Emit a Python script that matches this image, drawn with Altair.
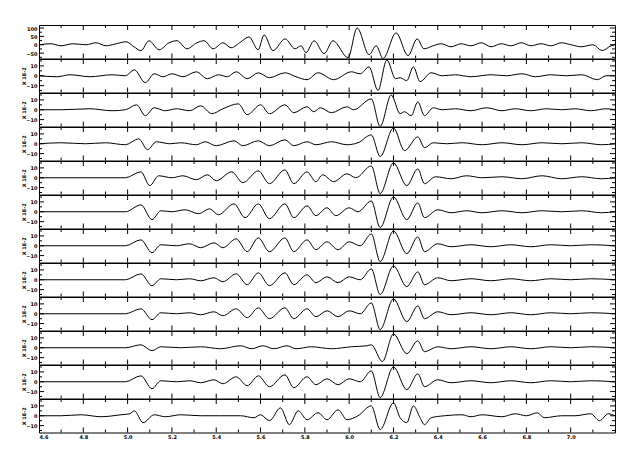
import altair as alt
import pandas as pd

# time axis (s)
X_MAJOR = [4.8, 5.0, 5.2, 5.4, 5.6, 5.8, 6.0, 6.2, 6.4, 6.6, 6.8, 7.0]
X_LABELS = [4.6, 4.8, 5.0, 5.2, 5.4, 5.6, 5.8, 6.0, 6.2, 6.4, 6.6, 6.8, 7.0]
X_MINOR = [4.7, 4.9, 5.1, 5.3, 5.5, 5.7, 5.9, 6.1, 6.3, 6.5, 6.7, 6.9, 7.1]

# trace 1
T1 = [4.600, 4.654, 4.699, 4.753, 4.812, 4.857, 4.902, 4.948, 4.993, 5.029, 5.060, 5.097, 5.142, 5.187,
      5.223, 5.268, 5.313, 5.345, 5.386, 5.431, 5.467, 5.512, 5.548, 5.589, 5.616, 5.656, 5.711, 5.756,
      5.783, 5.805, 5.842, 5.887, 5.927, 5.995, 6.036, 6.090, 6.122, 6.153, 6.212, 6.266, 6.307, 6.338,
      6.379, 6.415, 6.460, 6.505, 6.550, 6.596, 6.641, 6.686, 6.731, 6.776, 6.821, 6.866, 6.912, 6.957,
      7.002, 7.047, 7.101, 7.142, 7.182, 7.200]
V1 = [0, 6, -6, 6, 0, 12, -6, 6, 18, -12, -35, 24, -30, 12,
      24, -24, 12, 24, -24, 12, -18, 18, 47, -30, 59, -35, 35, -24,
      -6, -47, 24, -53, 24, -77, 100, -59, -6, -82, 71, -65, 35, -24,
      -6, 6, -12, 6, -6, 12, -12, 6, -6, 12, -6, 6, -6, 12,
      0, -12, 0, -35, -6, 0]

T2 = [4.60, 4.68, 4.74, 4.83, 4.93, 4.99, 5.03, 5.08, 5.12, 5.16, 5.20, 5.25, 5.31, 5.36, 5.41, 5.45,
      5.49, 5.54, 5.59, 5.64, 5.71, 5.76, 5.81, 5.86, 5.93, 6.01, 6.05, 6.09, 6.13, 6.17, 6.21, 6.23,
      6.26, 6.29, 6.32, 6.37, 6.42, 6.48, 6.55, 6.64, 6.71, 6.78, 6.84, 6.91, 6.98, 7.05, 7.12, 7.16, 7.20]
V2 = [0, -1, 1, -1, 1, 0, 6, -7, 2, -1, 2, -1, 4, -3, 1, -1,
      4, -3, 3, -2, 3, -1, -4, 3, -4, 4, 2, 9, -15, 16, -3, -2,
      -5, 9, -6, 3, 0, 1, -1, 1, 0, 2, -1, 1, 0, 1, -4, 0, 0]

T3 = [4.60, 4.70, 4.83, 4.93, 4.99, 5.04, 5.08, 5.12, 5.17, 5.22, 5.28, 5.33, 5.38, 5.43, 5.50, 5.54,
      5.60, 5.64, 5.71, 5.75, 5.81, 5.84, 5.87, 5.92, 5.99, 6.02, 6.10, 6.14, 6.19, 6.23, 6.25, 6.28,
      6.31, 6.34, 6.38, 6.42, 6.48, 6.55, 6.62, 6.69, 6.75, 6.82, 6.89, 6.96, 7.02, 7.09, 7.16, 7.20]
V3 = [0, 0, 1, -1, 0, 5, -6, 2, -1, 1, -1, 4, -4, 1, 6, -5,
      5, -4, 5, -3, 3, -2, 2, -3, 3, 0, 11, -17, 15, -4, -2, -6,
      8, -6, 2, 0, 1, -1, 2, -1, 1, -1, 1, 0, 1, -1, 1, 0]

T4 = [4.60, 4.70, 4.81, 4.90, 4.99, 5.05, 5.09, 5.13, 5.19, 5.24, 5.31, 5.35, 5.40, 5.48, 5.52, 5.59,
      5.64, 5.71, 5.75, 5.81, 5.85, 5.92, 5.99, 6.04, 6.10, 6.14, 6.20, 6.25, 6.31, 6.34, 6.38, 6.44,
      6.51, 6.60, 6.69, 6.78, 6.87, 6.96, 7.05, 7.14, 7.20]
V4 = [0, 1, 0, 1, -1, 5, -6, 2, 0, 1, -1, 2, -2, 3, -2, 3,
      -2, 4, -2, 2, -1, 2, -1, 1, 9, -13, 16, -7, 7, -4, 1, 0,
      1, -1, 1, -1, 1, 0, 1, -1, 0]

T5 = [4.60, 4.79, 4.99, 5.06, 5.10, 5.14, 5.20, 5.25, 5.31, 5.36, 5.40, 5.47, 5.52, 5.59, 5.64, 5.71,
      5.75, 5.81, 5.85, 5.88, 5.93, 5.99, 6.03, 6.10, 6.14, 6.20, 6.26, 6.31, 6.34, 6.39, 6.46, 6.53,
      6.60, 6.69, 6.78, 6.87, 6.96, 7.05, 7.14, 7.20]
V5 = [0, 0, 0, 6, -8, 2, 0, 2, -2, 3, -3, 6, -5, 7, -6, 8,
      -6, 6, -4, 3, -4, 4, 0, 12, -16, 15, -8, 9, -6, 1, -1, 2,
      0, 1, -1, 2, -1, 1, -1, 0]

T6 = [4.60, 4.99, 5.06, 5.11, 5.15, 5.20, 5.26, 5.32, 5.37, 5.41, 5.48, 5.53, 5.59, 5.64, 5.71, 5.75,
      5.81, 5.85, 5.90, 5.94, 6.00, 6.04, 6.10, 6.14, 6.20, 6.26, 6.31, 6.34, 6.40, 6.46, 6.53, 6.60,
      6.69, 6.78, 6.87, 6.96, 7.05, 7.14, 7.20]
V6 = [0, 0, 7, -8, 1, 0, 2, -2, 3, -3, 8, -6, 8, -7, 8, -6,
      6, -4, 4, -4, 4, 0, 11, -16, 15, -8, 9, -6, 2, -1, 1, -1,
      1, -1, 1, 0, 1, -1, 0]

T7 = [4.60, 4.99, 5.06, 5.11, 5.15, 5.22, 5.28, 5.33, 5.39, 5.43, 5.49, 5.54, 5.59, 5.64, 5.71, 5.75,
      5.81, 5.85, 5.90, 5.95, 6.00, 6.05, 6.10, 6.14, 6.20, 6.26, 6.31, 6.34, 6.40, 6.46, 6.55, 6.64,
      6.73, 6.82, 6.91, 7.00, 7.09, 7.20]
V7 = [0, 0, 6, -7, 1, 0, 2, -2, 3, -2, 7, -6, 8, -6, 8, -6,
      6, -4, 4, -4, 4, 0, 12, -16, 15, -8, 9, -6, 2, -1, 1, -1,
      1, -1, 1, 0, 1, 0]

T8 = [4.60, 4.99, 5.06, 5.11, 5.15, 5.22, 5.28, 5.33, 5.39, 5.43, 5.49, 5.54, 5.59, 5.64, 5.71, 5.75,
      5.81, 5.85, 5.90, 5.95, 6.00, 6.05, 6.10, 6.14, 6.20, 6.26, 6.31, 6.34, 6.40, 6.46, 6.55, 6.64,
      6.73, 6.82, 6.91, 7.00, 7.09, 7.20]
V8 = [0, 0, 6, -6, 1, 0, 1, -1, 2, -2, 6, -5, 7, -6, 7, -5,
      5, -3, 3, -3, 3, 0, 11, -15, 14, -7, 8, -5, 2, -1, 1, -1,
      1, -1, 1, 0, 1, 0]

T9 = [4.60, 4.99, 5.06, 5.11, 5.15, 5.22, 5.28, 5.33, 5.39, 5.43, 5.49, 5.54, 5.59, 5.64, 5.71, 5.75,
      5.81, 5.85, 5.90, 5.95, 6.00, 6.05, 6.10, 6.14, 6.20, 6.26, 6.31, 6.34, 6.40, 6.46, 6.55, 6.64,
      6.73, 6.82, 6.91, 7.00, 7.09, 7.20]
V9 = [0, 0, 5, -6, 1, 0, 1, -1, 2, -2, 5, -4, 6, -5, 6, -5,
      5, -3, 3, -3, 3, 0, 11, -16, 15, -8, 8, -5, 2, -1, 1, -1,
      1, -1, 1, 0, 1, 0]

T10 = [4.60, 4.99, 5.06, 5.11, 5.15, 5.24, 5.33, 5.42, 5.51, 5.56, 5.61, 5.66, 5.72, 5.76, 5.83, 5.92,
       6.01, 6.08, 6.10, 6.15, 6.20, 6.26, 6.31, 6.34, 6.40, 6.46, 6.55, 6.64, 6.73, 6.82, 6.91, 7.00,
       7.09, 7.20]
V10 = [0, 0, 3, -3, 1, 0, 1, -1, 2, -1, 2, -1, 2, -1, 1, -1,
       1, 2, 3, -14, 14, -6, 7, -4, 1, -1, 1, -1, 1, -1, 1, 0,
       1, 0]

T11 = [4.60, 4.99, 5.06, 5.11, 5.15, 5.22, 5.28, 5.33, 5.39, 5.43, 5.49, 5.54, 5.59, 5.64, 5.71, 5.75,
       5.81, 5.85, 5.90, 5.95, 6.00, 6.05, 6.10, 6.14, 6.20, 6.26, 6.31, 6.34, 6.40, 6.46, 6.55, 6.64,
       6.73, 6.82, 6.91, 7.00, 7.09, 7.20]
V11 = [0, 0, 6, -7, 1, 0, 1, -1, 2, -2, 5, -4, 6, -5, 7, -6,
       5, -3, 3, -3, 3, 0, 11, -16, 15, -8, 8, -5, 2, -1, 1, -1,
       1, -1, 1, 0, 1, 0]

T12 = [4.60, 4.70, 4.79, 4.88, 4.97, 5.01, 5.03, 5.07, 5.12, 5.17, 5.24, 5.33, 5.42, 5.51, 5.57, 5.60,
       5.64, 5.69, 5.73, 5.77, 5.81, 5.86, 5.90, 5.95, 5.99, 6.04, 6.10, 6.14, 6.20, 6.23, 6.26, 6.29,
       6.32, 6.34, 6.37, 6.43, 6.51, 6.55, 6.60, 6.69, 6.75, 6.80, 6.85, 6.88, 6.96, 7.02, 7.09, 7.13,
       7.17, 7.20]
V12 = [0, 0, 1, -1, 1, 2, 5, -7, 1, -1, 1, 0, 0, 0, -2, 1,
       -5, 8, -9, 5, -4, 3, -4, 6, -4, 0, 10, -14, 13, -2, -7, 10,
       -2, -9, -2, 0, 1, -1, 1, -1, 2, 0, 3, -2, 0, 0, 2, -5,
       2, 0]

TRACES = [(T1, V1), (T2, V2), (T3, V3), (T4, V4), (T5, V5), (T6, V6),
          (T7, V7), (T8, V8), (T9, V9), (T10, V10), (T11, V11), (T12, V12)]

Y1_DOMAIN = [-82, 118]
Y1_MAJOR = [-50, 0, 50, 100]
Y1_MINOR = [-75, -25, 25, 75]
Y_DOMAIN = [-17, 17]
Y_MAJOR = [-10, 0, 10]
Y_MINOR = [-15, -5, 5, 15]
Y_TITLE = "X 1E-2"

W = 576
H = 33.5
FONT = "DejaVu Sans"
FS = 5


def panel(idx, t, v):
    first = idx == 0
    last = idx == len(TRACES) - 1
    dom = Y1_DOMAIN if first else Y_DOMAIN
    ymaj = Y1_MAJOR if first else Y_MAJOR
    ymin = Y1_MINOR if first else Y_MINOR
    xs = alt.Scale(domain=[4.6, 7.2], nice=False, zero=False)
    ys = alt.Scale(domain=dom, nice=False, zero=False)

    if last:
        xaxis = alt.Axis(values=X_LABELS, format=".1f", ticks=False, domain=False, grid=False,
                         labelFontSize=FS, labelFont=FONT, labelFontWeight="bold",
                         labelPadding=2, title=None, labelColor="black")
    else:
        xaxis = alt.Axis(labels=False, ticks=False, domain=False, grid=False, title=None,
                         minExtent=0, maxExtent=0)
    yaxis_kwargs = dict(values=ymaj, ticks=False, domain=False, grid=False,
                        labelFontSize=FS, labelFont=FONT, labelFontWeight="bold",
                        labelPadding=2, labelColor="black")
    if first:
        yaxis = alt.Axis(title=None, minExtent=18, maxExtent=18, **yaxis_kwargs)
    else:
        yaxis = alt.Axis(title=Y_TITLE, titleFontSize=FS, titleFont=FONT, titleFontWeight="bold",
                         titlePadding=2, titleColor="black", minExtent=11, maxExtent=11,
                         **yaxis_kwargs)

    df = pd.DataFrame({"t": t, "v": v})
    line = alt.Chart(df).mark_line(color="black", strokeWidth=1, interpolate="monotone", clip=True).encode(
        x=alt.X("t:Q", scale=xs, axis=xaxis),
        y=alt.Y("v:Q", scale=ys, axis=yaxis),
    )

    xmaj = pd.DataFrame({"t": X_MAJOR})
    xmin = pd.DataFrame({"t": X_MINOR})
    ymajdf = pd.DataFrame({"v": [y for y in ymaj]})
    ymindf = pd.DataFrame({"v": [y for y in ymin if dom[0] < y < dom[1]]})

    def xtick(d, y0, y1):
        return alt.Chart(d).mark_rule(color="black", strokeWidth=1).encode(
            x=alt.X("t:Q", scale=xs, axis=xaxis), y=alt.value(y0), y2=alt.value(y1))

    def ytick(d, x0, x1):
        return alt.Chart(d).mark_rule(color="black", strokeWidth=1).encode(
            y=alt.Y("v:Q", scale=ys, axis=yaxis), x=alt.value(x0), x2=alt.value(x1))

    layers = [
        xtick(xmaj, 0, 5), xtick(xmaj, H, H - 5),
        xtick(xmin, 0, 3), xtick(xmin, H, H - 3),
        ytick(ymajdf, 0, 5), ytick(ymajdf, W, W - 5),
        ytick(ymindf, 0, 3), ytick(ymindf, W, W - 3),
    ]
    return alt.layer(line, *layers).properties(width=W, height=H)


panels = [panel(i, t, v) for i, (t, v) in enumerate(TRACES)]

chart = alt.vconcat(*panels, spacing=0, bounds="flush").properties(
    padding={"left": 12, "top": 16, "right": 5, "bottom": 5},
    background="white",
).configure_view(stroke="black", strokeWidth=1)

chart.save("out.html", embed_options={"renderer": "svg", "actions": False})
